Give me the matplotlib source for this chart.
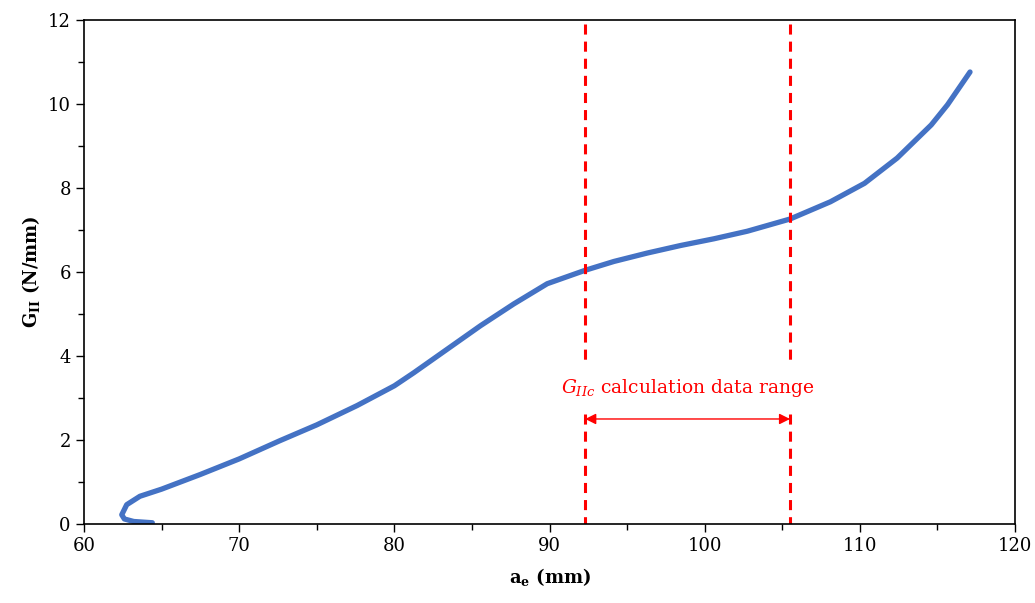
import matplotlib
matplotlib.use("Agg")
import matplotlib.pyplot as plt
from matplotlib.ticker import MultipleLocator

plt.rcParams['font.family'] = 'DejaVu Serif'
plt.rcParams['mathtext.fontset'] = 'dejavuserif'

# crack length a_e (mm) vs G_II (N/mm)
ae = [64.4, 63.2, 62.6, 62.43, 62.75, 63.6, 65.0, 67.5, 70.0, 72.6, 75.0,
      77.6, 80.0, 81.25, 83.4, 85.55, 87.7, 89.85, 92.3, 94.15, 96.3,
      98.45, 100.6, 102.75, 105.5, 108.1, 110.3, 112.4, 114.6, 115.65, 117.1]
g2 = [0.03, 0.06, 0.12, 0.22, 0.46, 0.66, 0.83, 1.18, 1.55, 1.98, 2.36,
      2.82, 3.29, 3.60, 4.16, 4.72, 5.24, 5.72, 6.04, 6.25, 6.45,
      6.63, 6.79, 6.97, 7.26, 7.67, 8.11, 8.71, 9.50, 9.98, 10.76]

range_lo = 92.3
range_hi = 105.5

fig = plt.figure(figsize=(10.35, 6.03), dpi=100)
ax = fig.add_axes([0.0812, 0.131, 0.8995, 0.836])

ax.plot(ae, g2, color='#4472C4', lw=3.8, solid_capstyle='round',
        solid_joinstyle='round')

red = '#FF0000'
for xv in (range_lo, range_hi):
    ax.plot([xv, xv], [11.9, 3.75], color=red, lw=2.2, dashes=(3.3, 2.3))
    ax.plot([xv, xv], [2.62, 0], color=red, lw=2.2, dashes=(3.3, 2.3))

ax.annotate('', xy=(range_lo, 2.5), xytext=(range_hi, 2.5),
            arrowprops=dict(arrowstyle='<|-|>', color=red, lw=1.0,
                            mutation_scale=16, shrinkA=0, shrinkB=0))
ax.text((range_lo + range_hi) / 2, 3.24, r'$G_{IIc}$ calculation data range',
        color=red, fontsize=13.5, ha='center', va='center')

ax.set_xlim(60, 120)
ax.set_ylim(0, 12)
ax.xaxis.set_major_locator(MultipleLocator(10))
ax.xaxis.set_minor_locator(MultipleLocator(5))
ax.yaxis.set_major_locator(MultipleLocator(2))
ax.yaxis.set_minor_locator(MultipleLocator(1))
ax.tick_params(which='major', direction='out', length=6, width=1, labelsize=13)
ax.tick_params(which='minor', direction='out', length=4, width=1)
for s in ax.spines.values():
    s.set_linewidth(1.2)

ax.set_xlabel(r'$\mathbf{a_e}$ (mm)', fontsize=13, fontweight='bold', labelpad=8)
ax.set_ylabel(r'$\mathbf{G_{II}}$ (N/mm)', fontsize=13, fontweight='bold', labelpad=4)

fig.savefig('out.png', dpi=100)
